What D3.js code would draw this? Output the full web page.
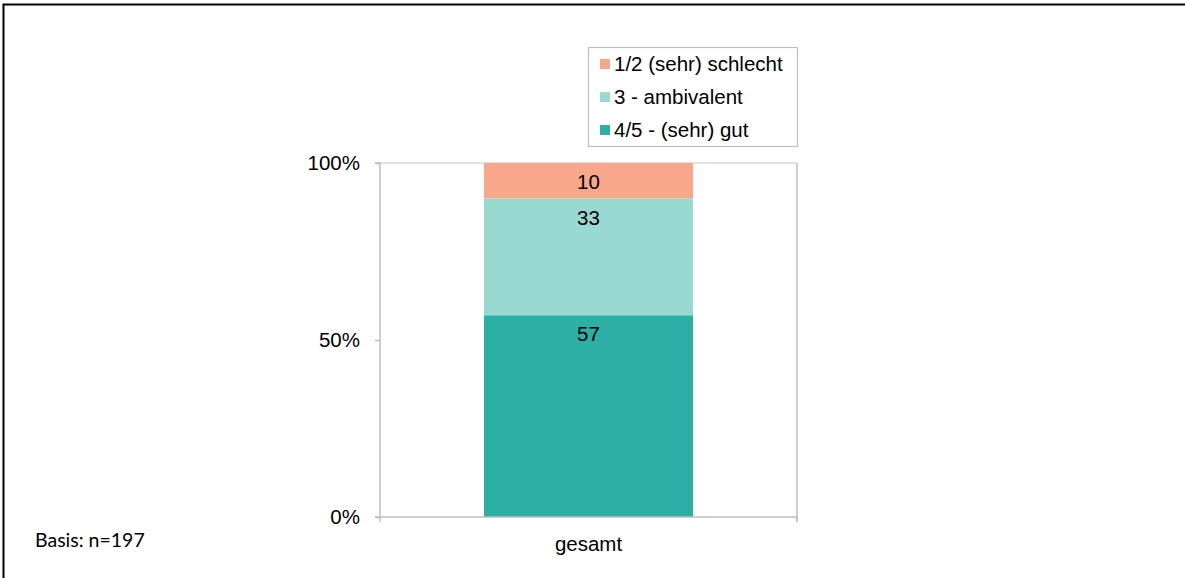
<!DOCTYPE html>
<html><head><meta charset="utf-8">
<script src="https://cdn.jsdelivr.net/npm/d3@7"></script>
<style>body{margin:0;background:#fff}svg{display:block}</style>
</head><body><svg id="c" width="1185" height="578"></svg>
<script>
const categories = ["gesamt"];
const seriesNames = ["4/5 - (sehr) gut", "3 - ambivalent", "1/2 (sehr) schlecht"];
const seriesColors = ["#2EAFA5", "#9AD8D2", "#F8A78B"];
const values = {"4/5 - (sehr) gut": [57], "3 - ambivalent": [33], "1/2 (sehr) schlecht": [10]};
const yTicks = [0, 50, 100];
const legendOrder = ["1/2 (sehr) schlecht", "3 - ambivalent", "4/5 - (sehr) gut"];
const note = "Basis: n=197";

const svg = d3.select("#c");
const font = "'Liberation Sans', Arial, sans-serif";
const fs = 20.5;
svg.append("path").attr("d","M3.5,578 V4.5 H1185").attr("fill","none").attr("stroke","#000").attr("stroke-width",2);

const m = {l:380, t:163, r:797, b:517};
const x = d3.scaleBand().domain(categories).range([m.l, m.r]).paddingInner(0.5).paddingOuter(0.25);
const y = d3.scaleLinear().domain([0,100]).range([m.b, m.t]);

svg.append("line").attr("x1",m.l).attr("x2",m.r).attr("y1",y(100)).attr("y2",y(100)).attr("stroke","#d9d9d9").attr("stroke-width",1.5);
svg.append("line").attr("x1",m.r).attr("x2",m.r).attr("y1",m.t).attr("y2",m.b+5).attr("stroke","#bfbfbf").attr("stroke-width",1.5);

const rows = categories.map((c,i)=>{const o={cat:c}; seriesNames.forEach(s=>o[s]=values[s][i]); return o;});
const stack = d3.stack().keys(seriesNames)(rows);
const color = d3.scaleOrdinal().domain(seriesNames).range(seriesColors);

const bw = 209;
stack.forEach(layer=>{
  layer.forEach(d=>{
    const cx = x(d.data.cat) + x.bandwidth()/2;
    svg.append("rect").attr("x", cx-bw/2).attr("width", bw)
      .attr("y", y(d[1])).attr("height", y(d[0])-y(d[1])).attr("fill", color(layer.key));
    svg.append("text").attr("x", cx).attr("y", y(d[1])+19).attr("dy","0.35em")
      .attr("text-anchor","middle").attr("font-family",font).attr("font-size",fs).attr("fill","#000")
      .text(d[1]-d[0]);
  });
});

const ya = d3.axisLeft(y).tickValues(yTicks).tickFormat(d=>d+"%").tickSize(5).tickPadding(15);
const gy = svg.append("g").attr("transform",`translate(${m.l},0)`).call(ya);
gy.select(".domain").attr("stroke","#bfbfbf").attr("stroke-width",1.5).attr("d",`M-5,${m.t}H0V${m.b}H-5`);
gy.selectAll(".tick line").attr("stroke","#bfbfbf").attr("stroke-width",1.5);
gy.selectAll("text").attr("font-family",font).attr("font-size",fs).attr("fill","#000");

const xa = d3.axisBottom(x).tickSize(0).tickPadding(19);
const gx = svg.append("g").attr("transform",`translate(0,${m.b})`).call(xa);
gx.select(".domain").attr("stroke","#bfbfbf").attr("stroke-width",1.5).attr("d",`M${m.l},5V0H${m.r}V5`);
gx.selectAll("text").attr("font-family",font).attr("font-size",fs).attr("fill","#000");

const lg = svg.append("g");
lg.append("rect").attr("x",588.5).attr("y",47.5).attr("width",209).attr("height",99).attr("fill","#fff").attr("stroke","#bfbfbf").attr("stroke-width",1.2);
legendOrder.forEach((s,i)=>{
  const cy = 64 + i*33;
  lg.append("rect").attr("x",600).attr("y",cy-5).attr("width",10).attr("height",10).attr("fill",color(s));
  lg.append("text").attr("x",614).attr("y",cy).attr("dy","0.35em").attr("font-family",font).attr("font-size",fs).attr("fill","#000").text(s);
});

svg.append("text").attr("x",35).attr("y",540).attr("dy","0.35em").attr("font-family","Lato, 'Open Sans', sans-serif").attr("font-size",19.5).attr("fill","#000").text(note);
</script></body></html>
